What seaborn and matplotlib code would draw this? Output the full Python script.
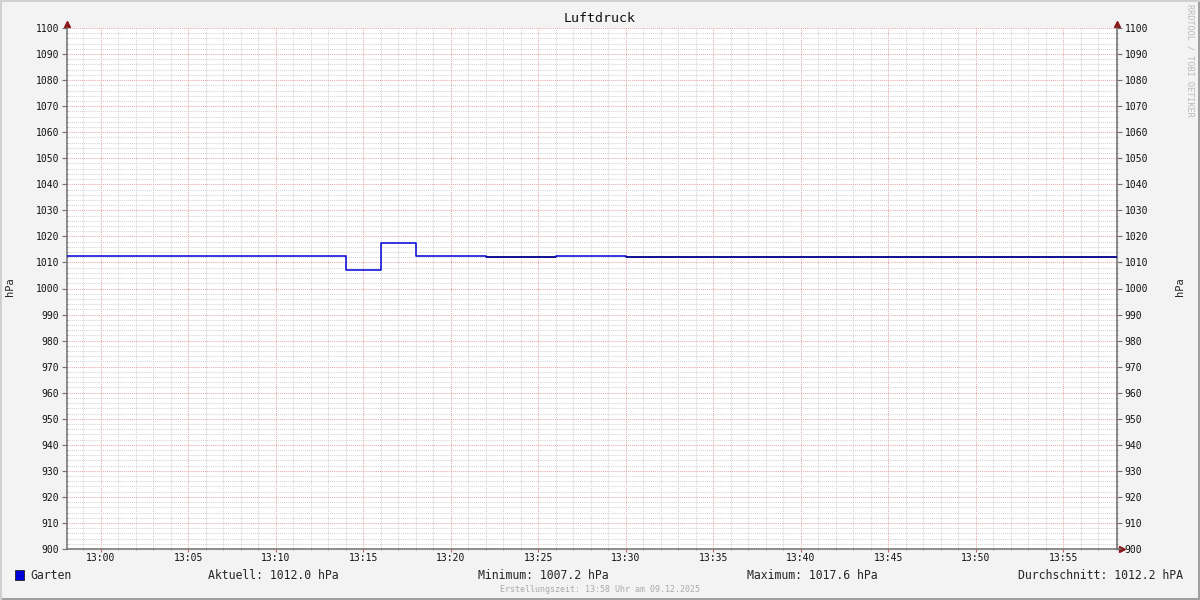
import matplotlib
matplotlib.use("Agg")
import matplotlib.pyplot as plt
import matplotlib.dates as mdates
import matplotlib.transforms as mtransforms
from matplotlib.patches import Rectangle
from matplotlib.lines import Line2D
import seaborn as sns
import pandas as pd

# ---------------- data ----------------
title = "Luftdruck"
unit = "hPa"
series_name = "Garten"
change_times = ["2025-12-09 12:58:00", "2025-12-09 13:14:00", "2025-12-09 13:16:00",
                "2025-12-09 13:18:00", "2025-12-09 13:22:00", "2025-12-09 13:26:00",
                "2025-12-09 13:30:00", "2025-12-09 13:58:04"]
pressure = [1012.4, 1007.2, 1017.6, 1012.4, 1012.0, 1012.4, 1012.0, 1012.0]
current_value = 1012.0
x_start = "2025-12-09 12:58:04"
x_end = "2025-12-09 13:58:04"
y_min, y_max = 900, 1100
y_ticks = list(range(900, 1101, 10))
stats_labels = ["Aktuell: 1012.0 hPa", "Minimum: 1007.2 hPa",
                "Maximum: 1017.6 hPa", "Durchschnitt: 1012.2 hPA"]
footer = "Erstellungszeit: 13:58 Uhr am 09.12.2025"
watermark = "RRDTOOL / TOBI OETIKER"

# ---------------- style ----------------
sns.set_style("white")
plt.rcParams["font.family"] = ["DejaVu Sans Mono"]
W, H = 1200, 600
BG = "#F3F3F3"
BLUE = "#0000D8"
NAVY = "#0A0A80"
AXIS = "#707070"
ARROW = "#8B1A1A"

fig = plt.figure(figsize=(12, 6), dpi=100, facecolor=BG)

def fx(px):
    return px / W

def fy(py):
    return 1 - py / H

ax = fig.add_axes([fx(67), 51 / H, 1050 / W, 521 / H])
ax.set_facecolor("white")

df = pd.DataFrame({"time": pd.to_datetime(change_times), "hPa": pressure})
sns.lineplot(data=df, x="time", y="hPa", ax=ax, drawstyle="steps-post",
             color=BLUE, linewidth=1.1, zorder=3)
# darker rendering of segments lying at the current value
for i in range(len(df) - 1):
    if df["hPa"].iloc[i] == current_value:
        ax.hlines(df["hPa"].iloc[i], df["time"].iloc[i], df["time"].iloc[i + 1],
                  color=NAVY, linewidth=1.1, zorder=4)

ax.set_xlim(pd.Timestamp(x_start), pd.Timestamp(x_end))
ax.set_ylim(y_min, y_max)
ax.set_yticks(y_ticks)
ax.set_yticks(list(range(y_min, y_max + 1, 2)), minor=True)
ax.xaxis.set_major_locator(mdates.MinuteLocator(byminute=range(0, 60, 5)))
ax.xaxis.set_minor_locator(mdates.MinuteLocator())
ax.xaxis.set_major_formatter(mdates.DateFormatter("%H:%M"))
ax.set_xlabel("")
ax.set_ylabel("")

ax.set_axisbelow(True)
ax.grid(which="major", color="#E7A9A9", linestyle=(0, (1, 1)), linewidth=0.75)
ax.grid(which="minor", color="#D4D4D4", linestyle=(0, (1, 1)), linewidth=0.75)

for side in ["left", "right", "bottom"]:
    ax.spines[side].set_visible(True)
    ax.spines[side].set_color(AXIS)
    ax.spines[side].set_linewidth(1.1)
ax.spines["top"].set_visible(False)

ax.tick_params(axis="y", which="major", left=True, right=True, labelleft=True,
               labelright=True, length=3.5, width=0.8, color=AXIS, pad=2,
               labelsize=7, labelcolor="#111111", direction="out")
ax.tick_params(axis="y", which="minor", left=True, right=True, length=1.5,
               width=0.6, color="#999999", direction="inout")
ax.tick_params(axis="x", which="major", bottom=True, length=2.0, width=0.8,
               color="#C06060", pad=0.8, labelsize=7, labelcolor="#111111",
               direction="out")
ax.tick_params(axis="x", which="minor", bottom=True, length=1.5, width=0.6,
               color="#999999", direction="inout")

# arrows at axis ends
up_off = mtransforms.offset_copy(ax.transAxes, fig=fig, x=0, y=4, units="dots")
ax.add_line(Line2D([0], [1], marker="^", markersize=4.5, color=ARROW,
                   transform=up_off, clip_on=False, linestyle="none"))
ax.add_line(Line2D([1], [1], marker="^", markersize=4.5, color=ARROW,
                   transform=up_off, clip_on=False, linestyle="none"))
rt_off = mtransforms.offset_copy(ax.transAxes, fig=fig, x=5, y=0, units="dots")
ax.add_line(Line2D([1], [0], marker=">", markersize=4.5, color=ARROW,
                   transform=rt_off, clip_on=False, linestyle="none"))
ax.add_line(Line2D([1, 1.004], [0, 0], color=AXIS, linewidth=1.1,
                   transform=ax.transAxes, clip_on=False))

# titles and axis labels
fig.text(fx(600), fy(19), title, ha="center", va="center", fontsize=9.5, color="#111111")
fig.text(fx(10), fy(287), unit, ha="center", va="center", rotation=90, fontsize=7.5)
fig.text(fx(1180), fy(287), unit, ha="center", va="center", rotation=90, fontsize=7.5)
fig.text(fx(1190), fy(4), watermark, ha="center", va="top", rotation=270,
         fontsize=6.1, color="#BBBBBB")

# legend row
fig.patches.append(Rectangle((fx(15), fy(580)), 9 / W, 10 / H, transform=fig.transFigure,
                             facecolor=BLUE, edgecolor="#202020", linewidth=0.6))
fig.text(fx(30), fy(575.5), series_name, ha="left", va="center", fontsize=8.3)
fig.text(fx(208), fy(575.5), stats_labels[0], ha="left", va="center", fontsize=8.3)
fig.text(fx(478), fy(575.5), stats_labels[1], ha="left", va="center", fontsize=8.3)
fig.text(fx(747), fy(575.5), stats_labels[2], ha="left", va="center", fontsize=8.3)
fig.text(fx(1183), fy(575.5), stats_labels[3], ha="right", va="center", fontsize=8.3)
fig.text(fx(600), fy(589), footer, ha="center", va="center", fontsize=6.0, color="#AAAAAA")

# outer frame (3D-like border)
fig.patches.append(Rectangle((0, 0), 1, 2 / H, transform=fig.transFigure,
                             facecolor="#A0A0A0", edgecolor="none"))
fig.patches.append(Rectangle((1 - 2 / W, 0), 2 / W, 1, transform=fig.transFigure,
                             facecolor="#A0A0A0", edgecolor="none"))
fig.patches.append(Rectangle((0, 1 - 2 / H), 1, 2 / H, transform=fig.transFigure,
                             facecolor="#D0D0D0", edgecolor="none"))
fig.patches.append(Rectangle((0, 0), 2 / W, 1, transform=fig.transFigure,
                             facecolor="#D0D0D0", edgecolor="none"))

fig.savefig("out.png", dpi=100, facecolor=BG)
